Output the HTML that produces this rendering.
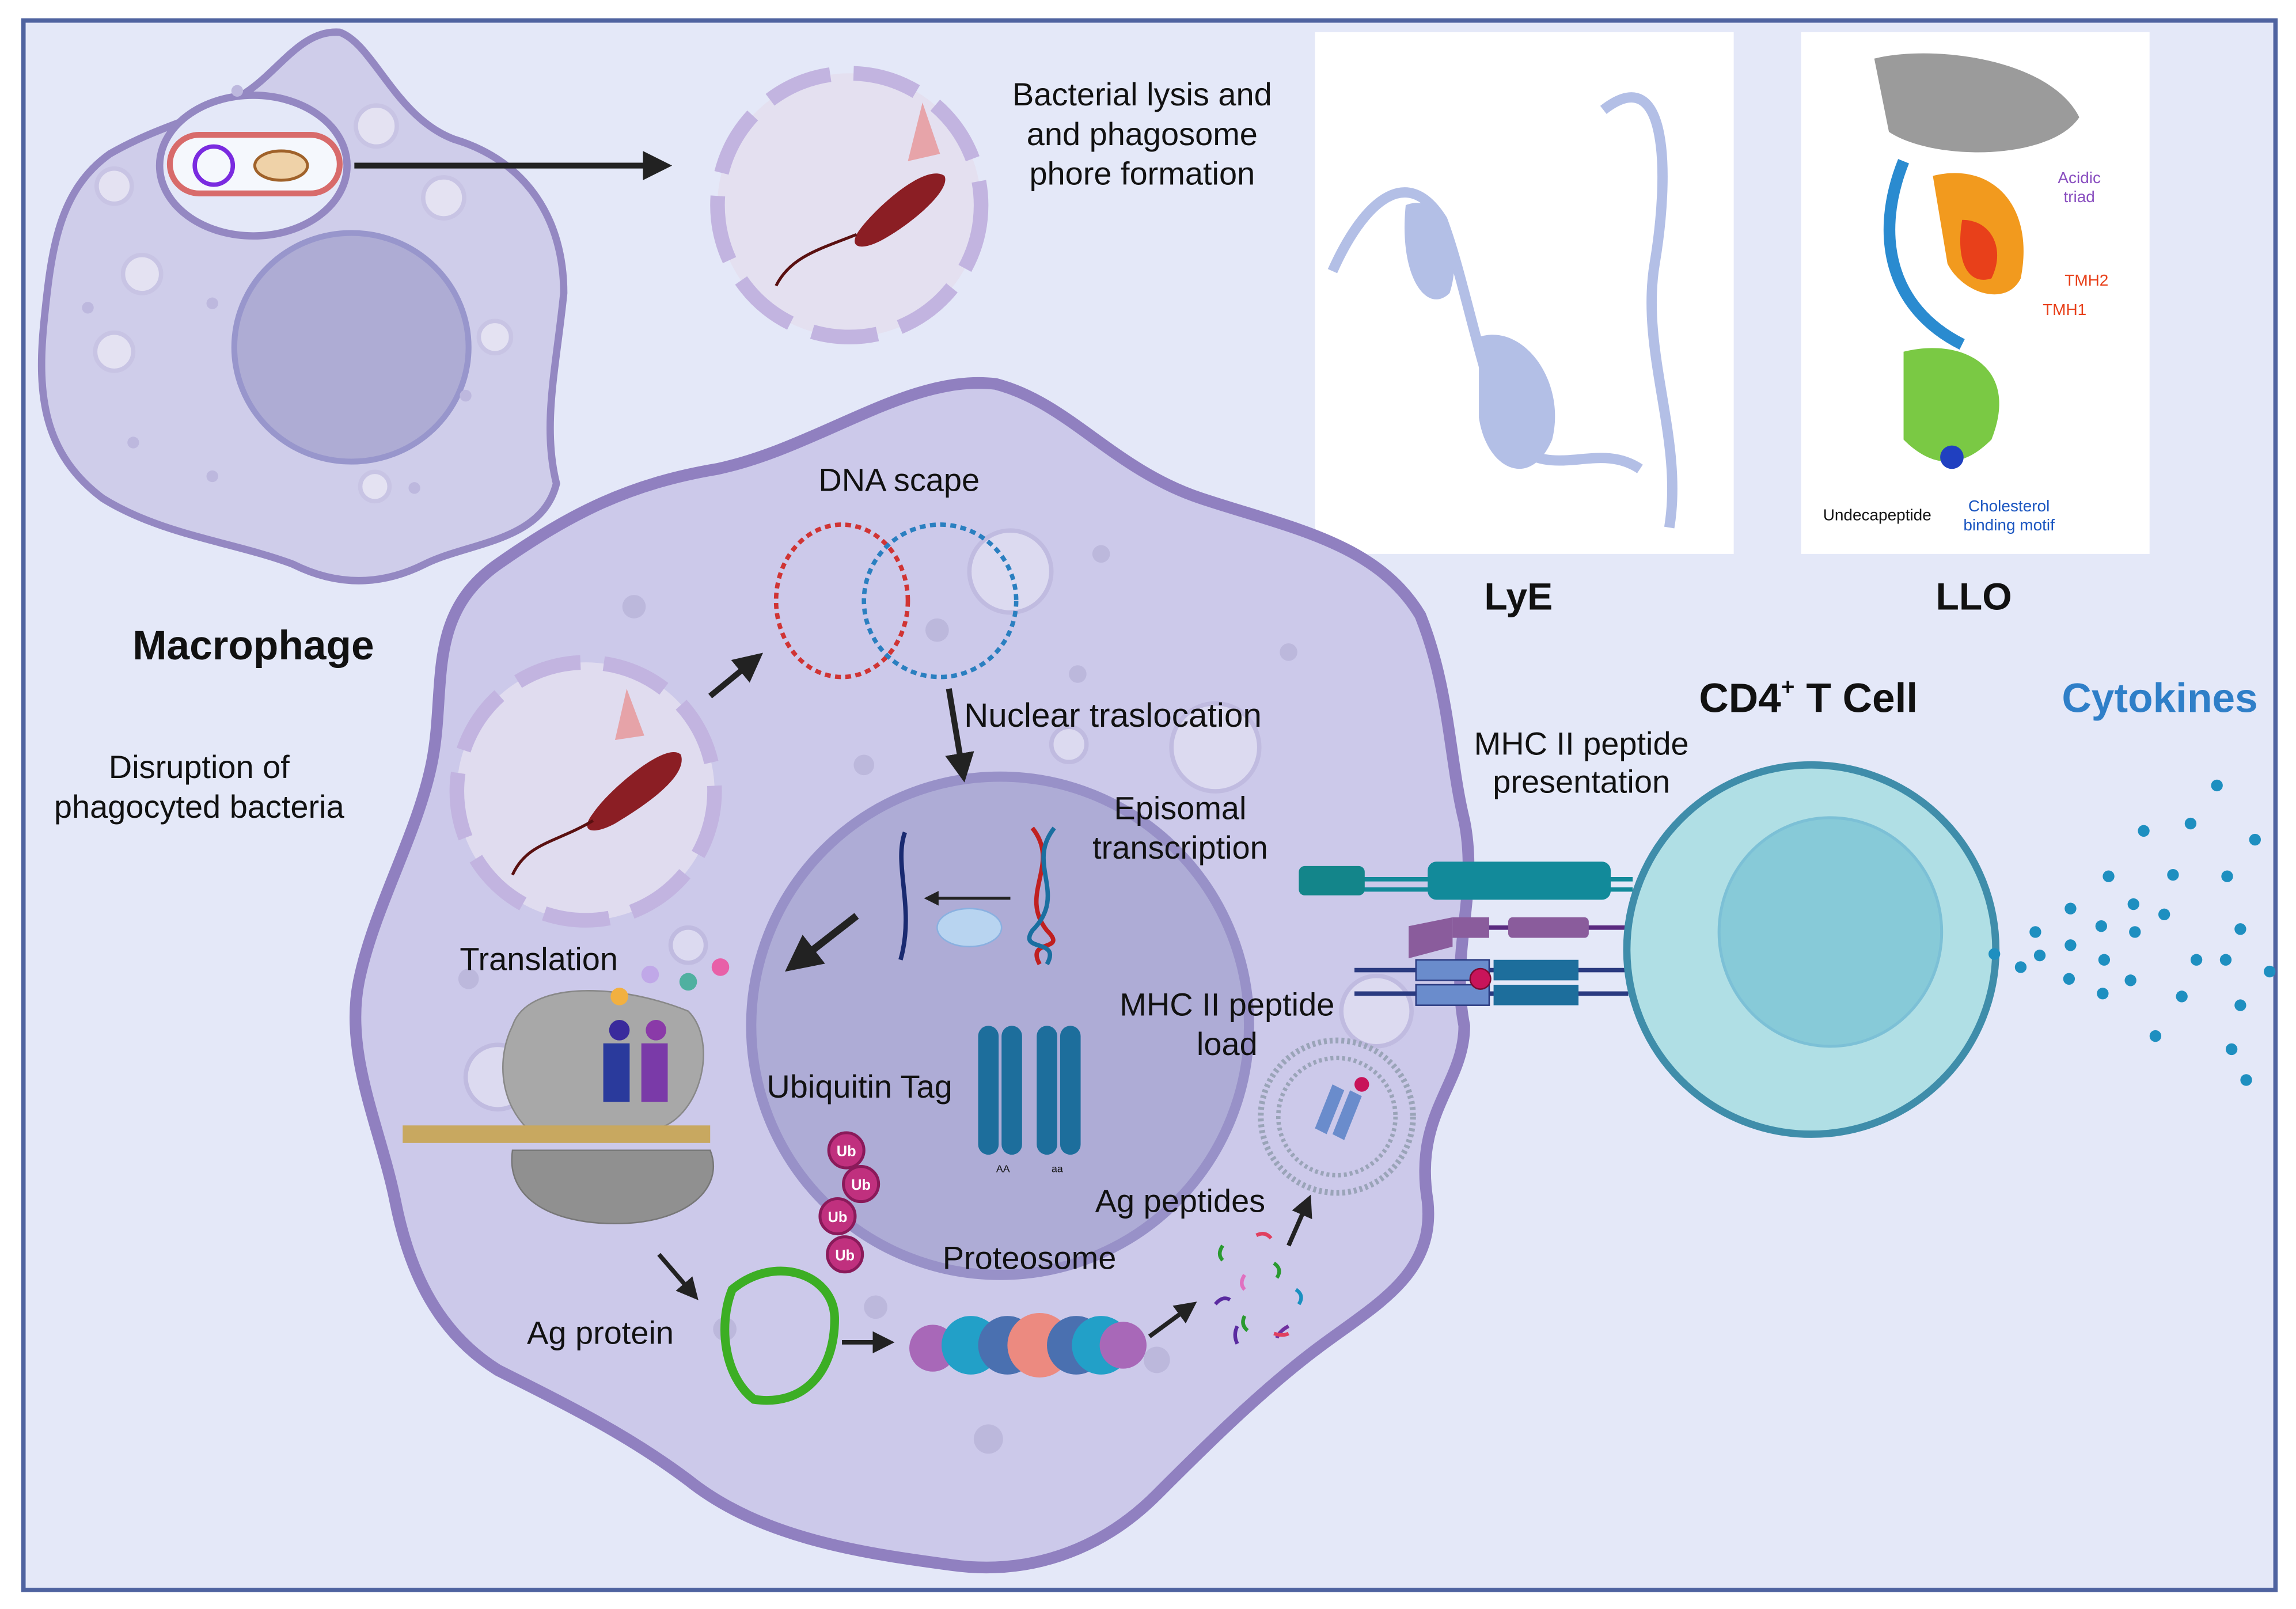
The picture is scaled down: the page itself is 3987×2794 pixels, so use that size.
<!DOCTYPE html>
<html><head><meta charset="utf-8"><style>
html,body{margin:0;padding:0;background:#fff;}
svg{display:block;}
text{font-family:"Liberation Sans",sans-serif;fill:#111;}
</style></head><body>
<svg width="3987" height="2794" viewBox="0 0 1568 1098" preserveAspectRatio="none" xmlns="http://www.w3.org/2000/svg">
<defs>
<marker id="ah" viewBox="0 0 10 10" refX="8" refY="5" markerWidth="5" markerHeight="5" orient="auto"><path d="M0,0 L10,5 L0,10 z" fill="#222"/></marker>
</defs>
<rect x="0" y="0" width="1568" height="1098" fill="#fff"/>
<rect x="16" y="14" width="1538" height="1071" fill="#e4e8f8" stroke="#4f63a0" stroke-width="3"/>

<!-- Macrophage -->
<path d="M232,22 C255,30 270,80 310,95 C360,110 385,150 385,200 C380,250 370,290 380,330 C370,370 320,370 290,385 C260,400 230,400 200,385 C160,370 110,365 70,340 C30,310 25,270 30,220 C35,170 40,130 75,105 C110,85 140,80 165,65 C190,50 205,20 232,22 Z" fill="#cfcdea" stroke="#9488c2" stroke-width="5"/>
<ellipse cx="240" cy="237" rx="80" ry="78" fill="#aeacd4" stroke="#9896cc" stroke-width="4"/>
<ellipse cx="173" cy="113" rx="64" ry="48" fill="#e4e8f8" stroke="#9488c2" stroke-width="5"/>
<rect x="116" y="92" width="116" height="40" rx="20" fill="#f5f8fd" stroke="#d86b6b" stroke-width="4"/>
<circle cx="146" cy="113" r="13" fill="none" stroke="#7a2be0" stroke-width="3"/>
<ellipse cx="192" cy="113" rx="18" ry="10" fill="#efd2a8" stroke="#a0622a" stroke-width="2"/>
<g fill="#e4e2f2" stroke="#c8c4e4" stroke-width="3">
<circle cx="257" cy="86" r="14"/><circle cx="303" cy="135" r="14"/><circle cx="78" cy="240" r="13"/><circle cx="97" cy="187" r="13"/><circle cx="338" cy="230" r="11"/><circle cx="256" cy="332" r="10"/><circle cx="78" cy="127" r="12"/>
</g>
<g fill="#bdb8de"><circle cx="145" cy="207" r="4"/><circle cx="60" cy="210" r="4"/><circle cx="145" cy="325" r="4"/><circle cx="283" cy="333" r="4"/><circle cx="318" cy="270" r="4"/><circle cx="91" cy="302" r="4"/><circle cx="162" cy="62" r="4"/></g>
<line x1="242" y1="113" x2="455" y2="113" stroke="#222" stroke-width="4" marker-end="url(#ah)"/>
<text x="173" y="450" font-size="28" font-weight="bold" text-anchor="middle">Macrophage</text>

<!-- Phagosome top -->
<circle cx="580" cy="140" r="90" fill="#e4e0f0" stroke="#c2b4e0" stroke-width="10" stroke-dasharray="45 16"/>
<path d="M585,160 C590,150 630,110 645,120 C650,130 620,155 600,165 C590,170 580,170 585,160 Z" fill="#8b1e24"/>
<path d="M585,160 C560,170 540,175 530,195" fill="none" stroke="#5a1010" stroke-width="2"/>
<path d="M620,110 l10,-40 l12,35 z" fill="#e88a8a" opacity="0.7"/>
<text x="780" y="72" font-size="22" text-anchor="middle">Bacterial lysis and</text>
<text x="780" y="99" font-size="22" text-anchor="middle">and phagosome</text>
<text x="780" y="126" font-size="22" text-anchor="middle">phore formation</text>

<!-- LyE / LLO -->
<rect x="898" y="22" width="286" height="356" fill="#fff"/>
<path d="M910,185 C930,140 960,110 985,150 C1000,190 1010,250 1030,300 C1060,330 1090,300 1120,320 M1095,75 C1140,40 1140,120 1130,180 C1120,240 1150,300 1140,360" fill="none" stroke="#b3bfe6" stroke-width="7"/>
<path d="M1010,230 C1040,220 1070,260 1060,300 C1045,335 1015,320 1010,285 Z" fill="#b3bfe6"/>
<path d="M960,140 C985,130 1000,170 990,200 C975,215 955,190 960,140 Z" fill="#b3bfe6"/>
<rect x="1230" y="22" width="238" height="356" fill="#fff"/>
<path d="M1280,40 C1320,30 1400,40 1420,80 C1400,110 1320,110 1290,90 Z" fill="#9b9b9b"/>
<path d="M1300,110 C1280,160 1290,210 1340,235" fill="none" stroke="#2a8bd0" stroke-width="8"/>
<path d="M1320,120 C1360,110 1390,140 1380,190 C1370,210 1340,200 1330,180 Z" fill="#f29a1e"/>
<path d="M1340,150 C1360,150 1370,170 1360,190 C1345,195 1335,180 1340,150 Z" fill="#e8401a"/>
<path d="M1300,240 C1340,230 1380,250 1360,300 C1340,320 1320,320 1300,300 Z" fill="#7ac944"/>
<circle cx="1333" cy="312" r="8" fill="#2040c0"/>
<text x="1420" y="125" font-size="11" text-anchor="middle" style="fill:#8a4fc0">Acidic</text>
<text x="1420" y="138" font-size="11" text-anchor="middle" style="fill:#8a4fc0">triad</text>
<text x="1410" y="195" font-size="11" style="fill:#e8401a">TMH2</text>
<text x="1395" y="215" font-size="11" style="fill:#e8401a">TMH1</text>
<text x="1245" y="355" font-size="11">Undecapeptide</text>
<text x="1372" y="349" font-size="11" text-anchor="middle" style="fill:#1a55c0">Cholesterol</text>
<text x="1372" y="362" font-size="11" text-anchor="middle" style="fill:#1a55c0">binding motif</text>
<text x="1037" y="416" font-size="26" font-weight="bold" text-anchor="middle">LyE</text>
<text x="1348" y="416" font-size="26" font-weight="bold" text-anchor="middle">LLO</text>

<!-- Big cell -->
<path d="M680,262 C730,275 760,320 820,340 C880,360 940,370 970,420 C990,470 990,520 1000,560 C1010,610 990,650 1000,700 C1000,740 965,760 975,820 C980,870 940,890 900,920 C860,950 820,990 790,1020 C750,1060 700,1075 650,1068 C590,1060 520,1050 470,1010 C430,980 390,960 340,935 C300,910 280,870 270,820 C260,770 235,720 245,670 C255,620 285,570 295,520 C305,470 290,420 340,385 C390,350 430,330 490,320 C560,305 620,255 680,262 Z" fill="#ccc9ea" stroke="#9080c0" stroke-width="8"/>
<g fill="#dcdaf0" stroke="#c0bbe0" stroke-width="3"><circle cx="690" cy="390" r="28"/><circle cx="830" cy="510" r="30"/><circle cx="730" cy="508" r="12"/><circle cx="470" cy="645" r="12"/><circle cx="340" cy="735" r="22"/><circle cx="940" cy="690" r="24"/></g>
<g fill="#bcb8dc"><circle cx="433" cy="414" r="8"/><circle cx="752" cy="378" r="6"/><circle cx="736" cy="460" r="6"/><circle cx="880" cy="445" r="6"/><circle cx="590" cy="522" r="7"/><circle cx="320" cy="668" r="7"/><circle cx="495" cy="907" r="8"/><circle cx="598" cy="892" r="8"/><circle cx="790" cy="928" r="9"/><circle cx="675" cy="982" r="10"/><circle cx="640" cy="430" r="8"/></g>
<circle cx="683" cy="700" r="170" fill="#aeacd6" stroke="#9891c8" stroke-width="7"/>

<!-- DNA scape -->
<text x="614" y="335" font-size="22" text-anchor="middle">DNA scape</text>
<ellipse cx="575" cy="410" rx="45" ry="52" fill="none" stroke="#d03434" stroke-width="3" stroke-dasharray="4 3"/>
<ellipse cx="642" cy="410" rx="52" ry="52" fill="none" stroke="#2a7fc0" stroke-width="3" stroke-dasharray="4 3"/>
<line x1="485" y1="475" x2="518" y2="448" stroke="#222" stroke-width="4" marker-end="url(#ah)"/>
<line x1="648" y1="470" x2="658" y2="530" stroke="#222" stroke-width="4" marker-end="url(#ah)"/>
<text x="760" y="496" font-size="23" text-anchor="middle">Nuclear traslocation</text>

<!-- phagosome left -->
<circle cx="400" cy="540" r="88" fill="#e0dcef" stroke="#c2b4e0" stroke-width="10" stroke-dasharray="45 16"/>
<path d="M405,555 C415,540 455,505 465,515 C470,530 440,550 420,562 C405,570 395,568 405,555 Z" fill="#8b1e24"/>
<path d="M405,560 C380,575 360,575 350,597" fill="none" stroke="#5a1010" stroke-width="2"/>
<path d="M420,505 l8,-35 l12,32 z" fill="#e88a8a" opacity="0.7"/>
<text x="136" y="531" font-size="22" text-anchor="middle">Disruption of</text>
<text x="136" y="558" font-size="22" text-anchor="middle">phagocyted bacteria</text>

<!-- Nucleus contents -->
<text x="806" y="559" font-size="22" text-anchor="middle">Episomal</text>
<text x="806" y="586" font-size="22" text-anchor="middle">transcription</text>
<path d="M705,565 C725,590 695,610 715,635 C730,650 700,640 710,658" fill="none" stroke="#c02020" stroke-width="3"/>
<path d="M720,565 C700,590 730,610 705,635 C695,650 725,640 715,658" fill="none" stroke="#1a6fa0" stroke-width="3"/>
<path d="M618,568 C610,590 625,620 615,655" fill="none" stroke="#1a2a70" stroke-width="3"/>
<line x1="690" y1="613" x2="633" y2="613" stroke="#222" stroke-width="2" marker-end="url(#ah)"/>
<ellipse cx="662" cy="633" rx="22" ry="13" fill="#b8d4f0" stroke="#8ab0e0"/>
<line x1="585" y1="625" x2="540" y2="660" stroke="#222" stroke-width="5" marker-end="url(#ah)"/>
<text x="368" y="662" font-size="22" text-anchor="middle">Translation</text>
<text x="587" y="749" font-size="22" text-anchor="middle">Ubiquitin Tag</text>
<g fill="#1d6e9c"><rect x="668" y="700" width="14" height="88" rx="7"/><rect x="684" y="700" width="14" height="88" rx="7"/><rect x="708" y="700" width="14" height="88" rx="7"/><rect x="724" y="700" width="14" height="88" rx="7"/></g>
<text x="685" y="800" font-size="7" text-anchor="middle">AA</text><text x="722" y="800" font-size="7" text-anchor="middle">aa</text>
<text x="838" y="693" font-size="22" text-anchor="middle">MHC II peptide</text>
<text x="838" y="720" font-size="22" text-anchor="middle">load</text>

<!-- Ribosome -->
<path d="M350,700 C360,670 420,670 470,690 C490,710 480,760 450,770 L360,770 C340,750 340,720 350,700 Z" fill="#a8a8a8" stroke="#888"/>
<path d="M350,785 L485,785 C495,810 470,835 420,835 C380,835 345,820 350,785 Z" fill="#909090" stroke="#777"/>
<rect x="275" y="768" width="210" height="12" fill="#c8a860"/>
<rect x="412" y="712" width="18" height="40" fill="#2a3a9c"/><rect x="438" y="712" width="18" height="40" fill="#7a3aa8"/>
<circle cx="423" cy="703" r="7" fill="#3a2a9c"/><circle cx="448" cy="703" r="7" fill="#8a3aa8"/>
<circle cx="423" cy="680" r="6" fill="#f2b040"/><circle cx="444" cy="665" r="6" fill="#c0a8e8"/><circle cx="470" cy="670" r="6" fill="#50b0a0"/><circle cx="492" cy="660" r="6" fill="#e860a8"/>
<line x1="450" y1="856" x2="475" y2="885" stroke="#222" stroke-width="3" marker-end="url(#ah)"/>
<text x="410" y="917" font-size="22" text-anchor="middle">Ag protein</text>

<!-- Ub + Ag protein -->
<g fill="#c0307e" stroke="#8a1a5a" stroke-width="2"><circle cx="578" cy="785" r="12"/><circle cx="588" cy="808" r="12"/><circle cx="572" cy="830" r="12"/><circle cx="577" cy="856" r="12"/></g>
<g font-size="10" text-anchor="middle" font-weight="bold"><text x="578" y="789" style="fill:#fff">Ub</text><text x="588" y="812" style="fill:#fff">Ub</text><text x="572" y="834" style="fill:#fff">Ub</text><text x="577" y="860" style="fill:#fff">Ub</text></g>
<path d="M500,880 C530,855 570,870 570,900 C570,935 550,960 515,955 C495,940 490,905 500,880 Z" fill="none" stroke="#3cae24" stroke-width="6"/>
<line x1="575" y1="916" x2="608" y2="916" stroke="#222" stroke-width="3" marker-end="url(#ah)"/>
<text x="703" y="866" font-size="22" text-anchor="middle">Proteosome</text>
<g><circle cx="637" cy="920" r="16" fill="#a868b8"/><circle cx="663" cy="918" r="20" fill="#22a0c8"/><circle cx="688" cy="918" r="20" fill="#4a70b0"/><circle cx="710" cy="918" r="22" fill="#ec8a80"/><circle cx="735" cy="918" r="20" fill="#4a70b0"/><circle cx="752" cy="918" r="20" fill="#22a0c8"/><circle cx="767" cy="918" r="16" fill="#a868b8"/></g>
<line x1="785" y1="912" x2="815" y2="890" stroke="#222" stroke-width="3" marker-end="url(#ah)"/>
<text x="806" y="827" font-size="22" text-anchor="middle">Ag peptides</text>
<g fill="none" stroke-width="2.5"><path d="M835,850 q-4,6 0,10" stroke="#2a9a30"/><path d="M858,843 q6,-3 10,2" stroke="#e04060"/><path d="M850,870 q-4,6 0,10" stroke="#e070c0"/><path d="M870,862 q6,4 2,10" stroke="#2a9a30"/><path d="M830,890 q5,-6 10,-3" stroke="#5a2aa0"/><path d="M885,880 q6,4 2,10" stroke="#1a90c0"/><path d="M850,898 q-3,6 2,10" stroke="#2a9a30"/><path d="M880,905 q-6,3 -8,8" stroke="#7030a0"/><path d="M845,905 q-3,6 0,12" stroke="#5a2aa0"/><path d="M870,910 q6,2 10,0" stroke="#e04060"/></g>
<line x1="880" y1="850" x2="894" y2="818" stroke="#222" stroke-width="3" marker-end="url(#ah)"/>
<circle cx="913" cy="762" r="52" fill="none" stroke="#9aa4b8" stroke-width="4" stroke-dasharray="2 2"/>
<circle cx="913" cy="762" r="40" fill="none" stroke="#9aa4b8" stroke-width="3" stroke-dasharray="2 2"/>
<path d="M910,740 l8,4 l-12,30 l-8,-4 z M922,744 l8,4 l-12,30 l-8,-4 z" fill="#6a8ccc"/>
<circle cx="930" cy="740" r="5" fill="#c8145a"/>

<!-- receptors -->
<line x1="930" y1="600" x2="1115" y2="600" stroke="#128a9a" stroke-width="3"/>
<line x1="930" y1="607" x2="1115" y2="607" stroke="#128a9a" stroke-width="3"/>
<rect x="887" y="591" width="45" height="20" rx="4" fill="#13858a"/>
<rect x="975" y="588" width="125" height="26" rx="6" fill="#128a9a"/>
<line x1="1000" y1="633" x2="1110" y2="633" stroke="#5a2a80" stroke-width="3"/>
<path d="M962,632 l30,-6 l0,20 l-30,8 z" fill="#8a5c9c"/><rect x="992" y="626" width="25" height="14" fill="#8a5c9c"/><rect x="1030" y="626" width="55" height="14" rx="3" fill="#8a5c9c"/>
<line x1="925" y1="662" x2="1112" y2="662" stroke="#2a3a80" stroke-width="3"/>
<line x1="925" y1="678" x2="1112" y2="678" stroke="#2a3a80" stroke-width="3"/>
<rect x="967" y="655" width="50" height="14" fill="#6a8ccc" stroke="#2a3a80"/><rect x="967" y="672" width="50" height="14" fill="#6a8ccc" stroke="#2a3a80"/>
<rect x="1020" y="655" width="58" height="14" fill="#1d6e9c"/><rect x="1020" y="672" width="58" height="14" fill="#1d6e9c"/>
<circle cx="1011" cy="668" r="7" fill="#c8145a" stroke="#7a0a30"/>
<text x="1080" y="515" font-size="22" text-anchor="middle">MHC II peptide</text>
<text x="1080" y="541" font-size="22" text-anchor="middle">presentation</text>

<!-- T cell -->
<circle cx="1237" cy="648" r="126" fill="#b0dfe5" stroke="#3f8daa" stroke-width="5"/>
<ellipse cx="1250" cy="636" rx="76" ry="78" fill="#87cad8" stroke="#7cc0d6" stroke-width="2"/>
<text x="1235" y="486" font-size="28" font-weight="bold" text-anchor="middle">CD4<tspan font-size="16" dy="-12">+</tspan><tspan dy="12"> T Cell</tspan></text>
<text x="1475" y="486" font-size="28" font-weight="bold" text-anchor="middle" style="fill:#2f7fc8">Cytokines</text>
<g fill="#1e8fc0">
<circle cx="1362" cy="651" r="4"/><circle cx="1380" cy="660" r="4"/><circle cx="1390" cy="636" r="4"/><circle cx="1393" cy="652" r="4"/><circle cx="1414" cy="620" r="4"/><circle cx="1414" cy="645" r="4"/><circle cx="1413" cy="668" r="4"/><circle cx="1435" cy="632" r="4"/><circle cx="1437" cy="655" r="4"/><circle cx="1436" cy="678" r="4"/><circle cx="1440" cy="598" r="4"/><circle cx="1457" cy="617" r="4"/><circle cx="1458" cy="636" r="4"/><circle cx="1455" cy="669" r="4"/><circle cx="1464" cy="567" r="4"/><circle cx="1478" cy="624" r="4"/><circle cx="1484" cy="597" r="4"/><circle cx="1490" cy="680" r="4"/><circle cx="1496" cy="562" r="4"/><circle cx="1500" cy="655" r="4"/><circle cx="1521" cy="598" r="4"/><circle cx="1520" cy="655" r="4"/><circle cx="1530" cy="634" r="4"/><circle cx="1530" cy="686" r="4"/><circle cx="1540" cy="573" r="4"/><circle cx="1550" cy="663" r="4"/><circle cx="1514" cy="536" r="4"/><circle cx="1472" cy="707" r="4"/><circle cx="1524" cy="716" r="4"/><circle cx="1534" cy="737" r="4"/>
</g>
</svg>
</body></html>
